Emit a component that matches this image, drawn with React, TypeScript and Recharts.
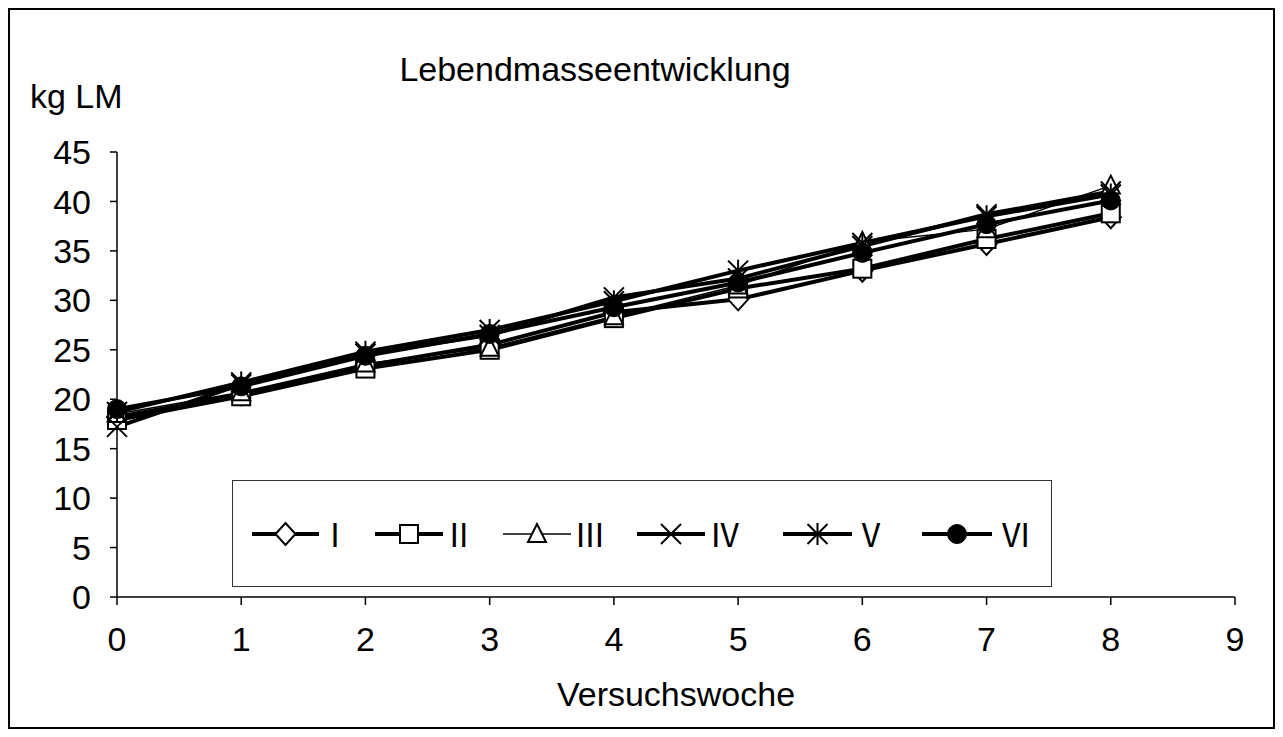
import React from 'react';
import { LineChart, Line, XAxis, YAxis, Legend } from 'recharts';

const weeks = [0, 1, 2, 3, 4, 5, 6, 7, 8];
const seriesI = [18.2, 20.5, 23.4, 25.5, 28.8, 30.1, 33.0, 35.7, 38.4];
const seriesII = [17.9, 20.3, 23.1, 25.0, 28.2, 31.2, 33.2, 36.2, 38.8];
const seriesIII = [18.5, 20.7, 23.6, 25.2, 28.4, 31.5, 35.9, 37.2, 41.6];
const seriesIV = [17.2, 21.5, 24.6, 26.5, 30.3, 32.2, 35.5, 38.7, 41.0];
const seriesV = [18.7, 21.7, 24.8, 27.0, 29.9, 33.0, 35.8, 38.5, 40.7];
const seriesVI = [19.0, 21.3, 24.4, 26.6, 29.3, 31.8, 34.8, 37.7, 40.1];

const xTicks = [0, 1, 2, 3, 4, 5, 6, 7, 8, 9];
const yTicks = [0, 5, 10, 15, 20, 25, 30, 35, 40, 45];

const data = weeks.map((w, i) => ({
  week: w,
  I: seriesI[i],
  II: seriesII[i],
  III: seriesIII[i],
  IV: seriesIV[i],
  V: seriesV[i],
  VI: seriesVI[i],
}));

type Shape = 'diamond' | 'square' | 'triangle' | 'x' | 'star' | 'circle';

const SERIES: { key: string; label: string; shape: Shape; width: number }[] = [
  { key: 'I', label: 'Ⅰ', shape: 'diamond', width: 4 },
  { key: 'II', label: 'Ⅱ', shape: 'square', width: 4 },
  { key: 'III', label: 'Ⅲ', shape: 'triangle', width: 1.5 },
  { key: 'IV', label: 'Ⅳ', shape: 'x', width: 4 },
  { key: 'V', label: 'Ⅴ', shape: 'star', width: 4 },
  { key: 'VI', label: 'Ⅵ', shape: 'circle', width: 4 },
];

const FONT = '"Liberation Sans", Arial, sans-serif';
const FS = 34;

function Marker({ shape, cx, cy, r = 10 }: { shape: Shape; cx: number; cy: number; r?: number }) {
  const sw = 2;
  switch (shape) {
    case 'diamond':
      return (
        <polygon
          points={`${cx},${cy - r - 1} ${cx + r},${cy} ${cx},${cy + r + 1} ${cx - r},${cy}`}
          fill="#fff" stroke="#000" strokeWidth={sw}
        />
      );
    case 'square':
      return <rect x={cx - r + 1} y={cy - r + 1} width={2 * r - 2} height={2 * r - 2} fill="#fff" stroke="#000" strokeWidth={sw} />;
    case 'triangle':
      return (
        <polygon
          points={`${cx},${cy - r} ${cx + r - 1},${cy + r - 2} ${cx - r + 1},${cy + r - 2}`}
          fill="#fff" stroke="#000" strokeWidth={sw}
        />
      );
    case 'x':
      return (
        <g stroke="#000" strokeWidth={sw}>
          <line x1={cx - r} y1={cy - r} x2={cx + r} y2={cy + r} />
          <line x1={cx - r} y1={cy + r} x2={cx + r} y2={cy - r} />
        </g>
      );
    case 'star':
      return (
        <g stroke="#000" strokeWidth={sw}>
          <line x1={cx - r} y1={cy - r} x2={cx + r} y2={cy + r} />
          <line x1={cx - r} y1={cy + r} x2={cx + r} y2={cy - r} />
          <line x1={cx} y1={cy - r - 1} x2={cx} y2={cy + r + 1} />
        </g>
      );
    default:
      return <circle cx={cx} cy={cy} r={r - 0.5} fill="#000" stroke="#000" />;
  }
}

const makeDot = (shape: Shape) => (props: any) => (
  <g key={`dot-${shape}-${props.index}`}>
    <Marker shape={shape} cx={props.cx} cy={props.cy} />
  </g>
);

// legend positions, relative to the legend box
const legendItems = [
  { x1: 19, x2: 86, lx: 86 },
  { x1: 142, x2: 210, lx: 210 },
  { x1: 270, x2: 338, lx: 341 },
  { x1: 404, x2: 472, lx: 476 },
  { x1: 550, x2: 619, lx: 622 },
  { x1: 689, x2: 759, lx: 767 },
];

const LegendBox = () => (
  <div style={{ width: 820, height: 107, border: '1.5px solid #333', boxSizing: 'border-box', background: '#fff' }}>
    <svg width={817} height={104}>
      {SERIES.map((s, i) => {
        const it = legendItems[i];
        const cx = (it.x1 + it.x2) / 2;
        return (
          <g key={s.key}>
            <line x1={it.x1} y1={53} x2={it.x2} y2={53} stroke="#000" strokeWidth={s.width} />
            <Marker shape={s.shape} cx={cx} cy={53} r={10} />
            <text x={it.lx} y={66} fontSize={32} fontFamily='"Noto Sans CJK JP", sans-serif' fill="#000">
              {s.label}
            </text>
          </g>
        );
      })}
    </svg>
  </div>
);

export default function App() {
  return (
    <div
      style={{
        position: 'relative',
        width: 1267,
        height: 721,
        border: '2px solid #000',
        boxSizing: 'border-box',
        background: '#fff',
        fontFamily: FONT,
      }}
    >
      <div style={{ position: 'absolute', left: 0, width: 1170, top: 40, textAlign: 'center', fontSize: FS }}>
        Lebendmasseentwicklung
      </div>
      <div style={{ position: 'absolute', left: 20, top: 67, fontSize: FS }}>kg LM</div>
      <LineChart
        width={1263}
        height={717}
        data={data}
        margin={{ top: 142, right: 38, left: 47, bottom: 10 }}
      >
        <XAxis
          dataKey="week"
          type="number"
          domain={[0, 9]}
          ticks={xTicks}
          height={120}
          tick={{ fill: '#000', fontSize: FS, fontFamily: FONT }}
          tickSize={8}
          tickMargin={22}
          axisLine={{ stroke: '#000', strokeWidth: 1.5 }}
          tickLine={{ stroke: '#000', strokeWidth: 1.5 }}
          label={{ value: 'Versuchswoche', position: 'insideBottom', offset: 11, fill: '#000', fontSize: FS, fontFamily: FONT }}
        />
        <YAxis
          type="number"
          domain={[0, 45]}
          ticks={yTicks}
          width={60}
          interval={0}
          tick={{ fill: '#000', fontSize: FS, fontFamily: FONT }}
          tickSize={7}
          tickMargin={19}
          axisLine={{ stroke: '#000', strokeWidth: 1.5 }}
          tickLine={{ stroke: '#000', strokeWidth: 1.5 }}
        />
        <Legend
          layout="horizontal"
          verticalAlign="middle"
          align="center"
          wrapperStyle={{ position: 'absolute', left: 222, top: 470, width: 820, height: 107 }}
          content={() => <LegendBox />}
        />
        {SERIES.map((s) => (
          <Line
            key={s.key}
            dataKey={s.key}
            stroke="#000"
            strokeWidth={s.width}
            dot={makeDot(s.shape)}
            activeDot={false}
            isAnimationActive={false}
          />
        ))}
      </LineChart>
    </div>
  );
}
